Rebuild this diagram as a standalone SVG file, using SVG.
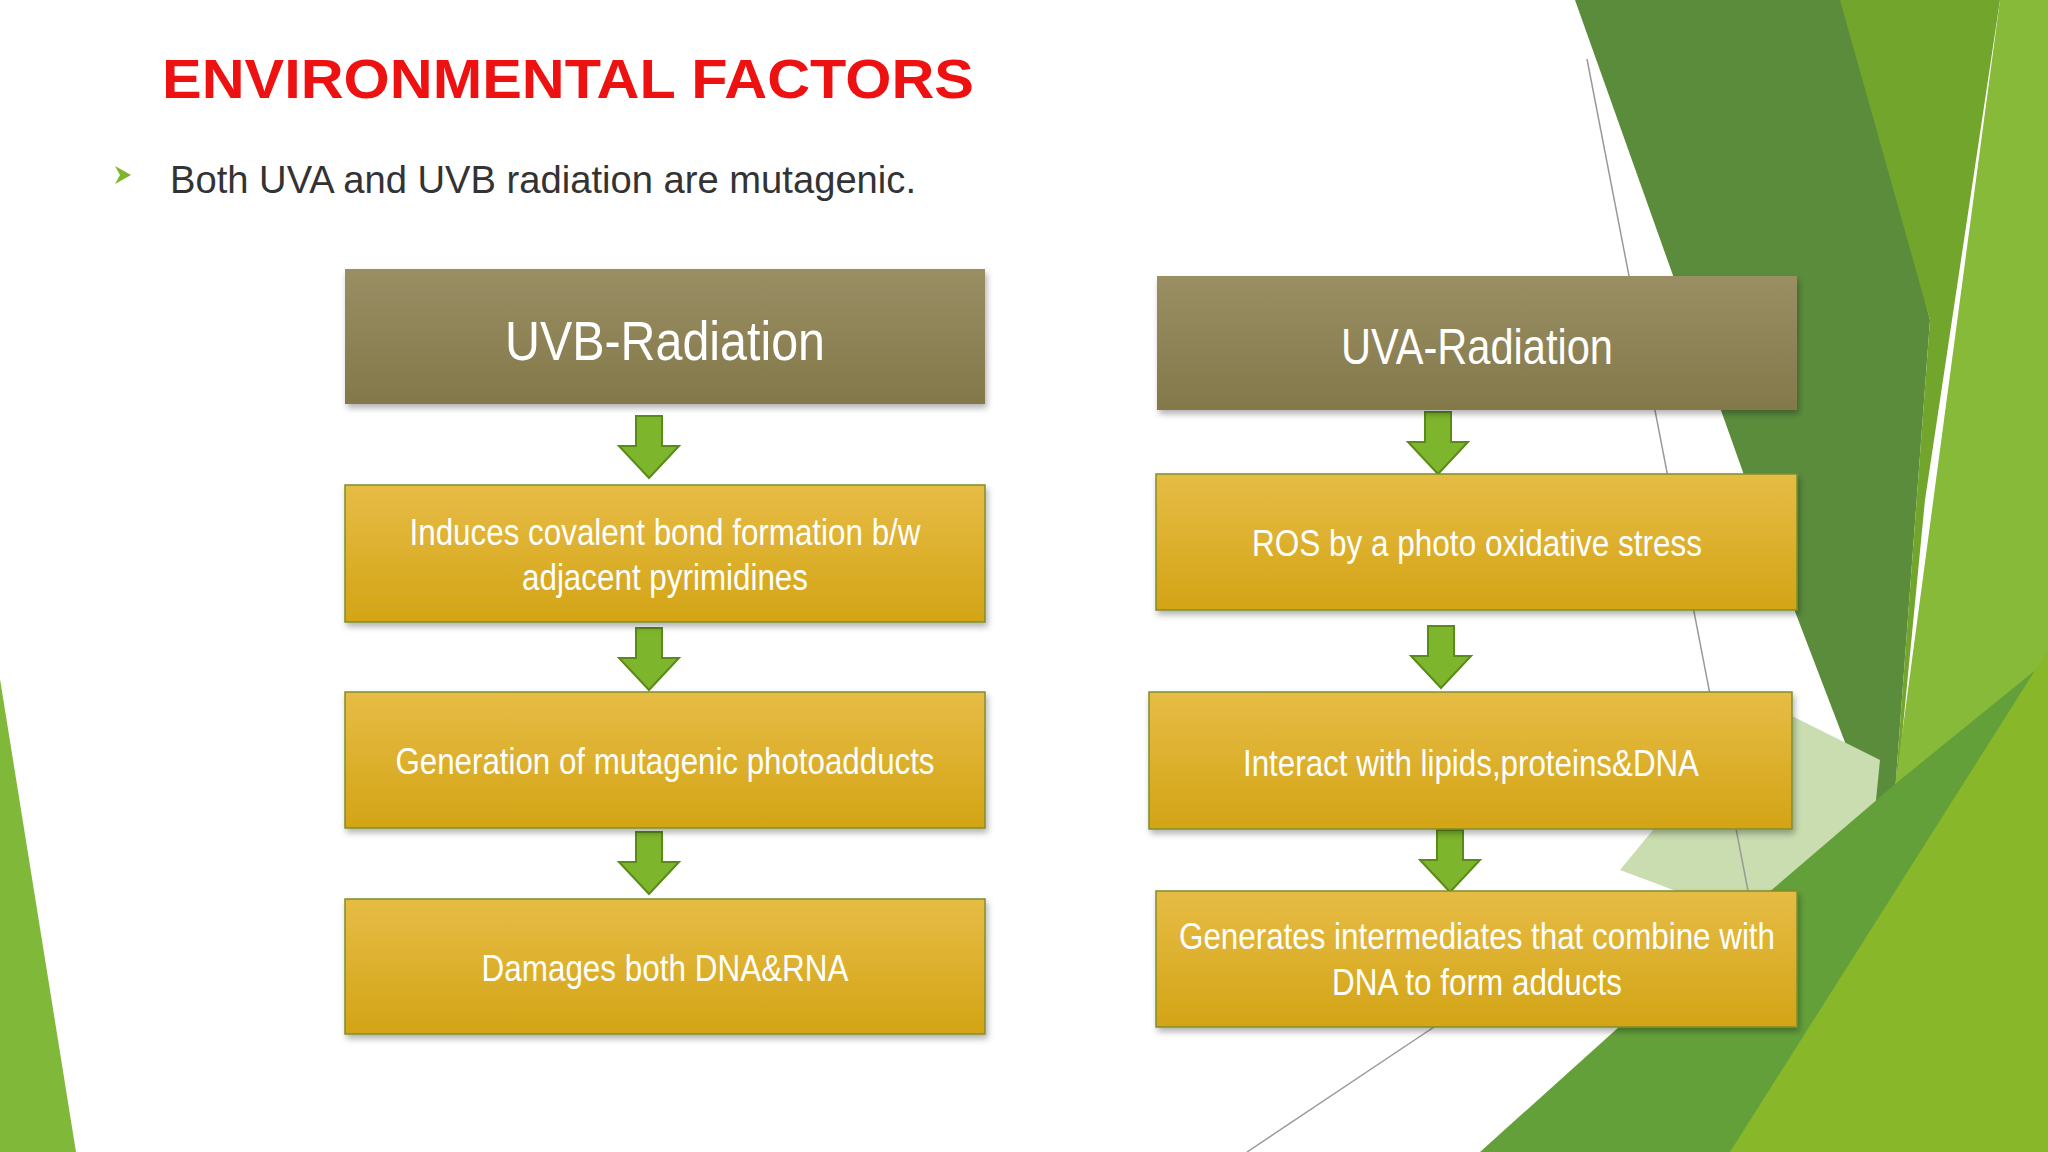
<svg xmlns="http://www.w3.org/2000/svg" width="2048" height="1152" viewBox="0 0 2048 1152">
<defs>
<linearGradient id="gold" x1="0" y1="0" x2="0" y2="1"><stop offset="0" stop-color="#e7bc45"/><stop offset="1" stop-color="#d3a416"/></linearGradient>
<linearGradient id="olive" x1="0" y1="0" x2="0" y2="1"><stop offset="0" stop-color="#9a8f64"/><stop offset="1" stop-color="#837849"/></linearGradient>
<filter id="sh" x="-5%" y="-10%" width="110%" height="130%"><feDropShadow dx="2" dy="4" stdDeviation="3" flood-color="#000" flood-opacity="0.3"/></filter>
<path id="arr" d="M-13,0 H13 V30 H30 L0,62 L-30,30 H-13 Z"/>
</defs>
<style>
.box{fill:url(#gold);stroke:#7f8f2a;stroke-width:1.5;filter:url(#sh)}
.hdr{fill:url(#olive);filter:url(#sh)}
.t{font-family:"Liberation Sans Narrow","Liberation Sans",Arial,sans-serif;fill:#fff;text-anchor:middle}
.bt{font-size:36px}
.ht{font-size:56px}
.ar{fill:#7db52c;stroke:#5a8a18;stroke-width:2}
</style>
<rect width="2048" height="1152" fill="#fff"/>
<g id="background">
<polygon points="0,679 76,1152 0,1152" fill="#80b83a"/>
<polygon points="1575,0 1850,0 1930,320 1890,860 1760,520" fill="#5b8c3c"/>
<polygon points="1840,0 2000,0 1925,500 1890,860 1930,320" fill="#72a52b"/>
<polygon points="2000,0 2048,0 2048,700 1860,1152 1880,900" fill="#86ba38"/>
<polygon points="1620,870 1760,700 1880,760 1860,960" fill="#c9ddb0"/>
<polygon points="1480,1152 1760,900 1900,780 2048,660 2048,1152" fill="#64a03a"/>
<polygon points="1730,1152 2048,650 2048,1152" fill="#88b82a"/>
<line x1="1587" y1="59" x2="1750" y2="901" stroke="#999" stroke-width="1.5"/>
<line x1="1247" y1="1152" x2="1437" y2="1025" stroke="#999" stroke-width="1.5"/>
</g>
<text x="162" y="98" font-family="Liberation Sans,Arial,sans-serif" font-weight="bold" font-size="56" fill="#ee1111" textLength="812" lengthAdjust="spacingAndGlyphs">ENVIRONMENTAL FACTORS</text>
<polygon points="115,166 131,175 115,184 120,175" fill="#7db52c"/>
<text x="170" y="193" font-family="Liberation Sans,Arial,sans-serif" font-size="38" fill="#333" textLength="746" lengthAdjust="spacingAndGlyphs">Both UVA and UVB radiation are mutagenic.</text>
<g id="connectors">
<use href="#arr" class="ar" transform="translate(649,416)"/>
<use href="#arr" class="ar" transform="translate(649,628)"/>
<use href="#arr" class="ar" transform="translate(649,832)"/>
<use href="#arr" class="ar" transform="translate(1438,412)"/>
<use href="#arr" class="ar" transform="translate(1441,626)"/>
<use href="#arr" class="ar" transform="translate(1450,830)"/>
</g>
<g id="uvb"><rect class="hdr" x="345" y="269" width="640" height="135"/><text class="t ht" x="665" y="360" textLength="320" lengthAdjust="spacingAndGlyphs">UVB-Radiation</text></g>
<g id="b1"><rect class="box" x="345" y="485" width="640" height="137"/><text class="t bt" x="665" y="545" textLength="511" lengthAdjust="spacingAndGlyphs">Induces covalent bond formation b/w</text><text class="t bt" x="665" y="590" textLength="286" lengthAdjust="spacingAndGlyphs">adjacent pyrimidines</text></g>
<g id="b2"><rect class="box" x="345" y="692" width="640" height="136"/><text class="t bt" x="665" y="774" textLength="539" lengthAdjust="spacingAndGlyphs">Generation of mutagenic photoadducts</text></g>
<g id="b3"><rect class="box" x="345" y="899" width="640" height="135"/><text class="t bt" x="665" y="981" textLength="367" lengthAdjust="spacingAndGlyphs">Damages both DNA&amp;RNA</text></g>
<g id="uva"><rect class="hdr" x="1157" y="276" width="640" height="134"/><text class="t" style="font-size:50px" x="1477" y="364" textLength="272" lengthAdjust="spacingAndGlyphs">UVA-Radiation</text></g>
<g id="a1"><rect class="box" x="1156" y="474" width="641" height="136"/><text class="t bt" x="1477" y="556" textLength="450" lengthAdjust="spacingAndGlyphs">ROS by a photo oxidative stress</text></g>
<g id="a2"><rect class="box" x="1149" y="692" width="643" height="137"/><text class="t bt" x="1471" y="776" textLength="456" lengthAdjust="spacingAndGlyphs">Interact with lipids,proteins&amp;DNA</text></g>
<g id="a3"><rect class="box" x="1156" y="891" width="641" height="136"/><text class="t bt" x="1477" y="949" textLength="596" lengthAdjust="spacingAndGlyphs">Generates intermediates that combine with</text><text class="t bt" x="1477" y="995" textLength="290" lengthAdjust="spacingAndGlyphs">DNA to form adducts</text></g>
</svg>
